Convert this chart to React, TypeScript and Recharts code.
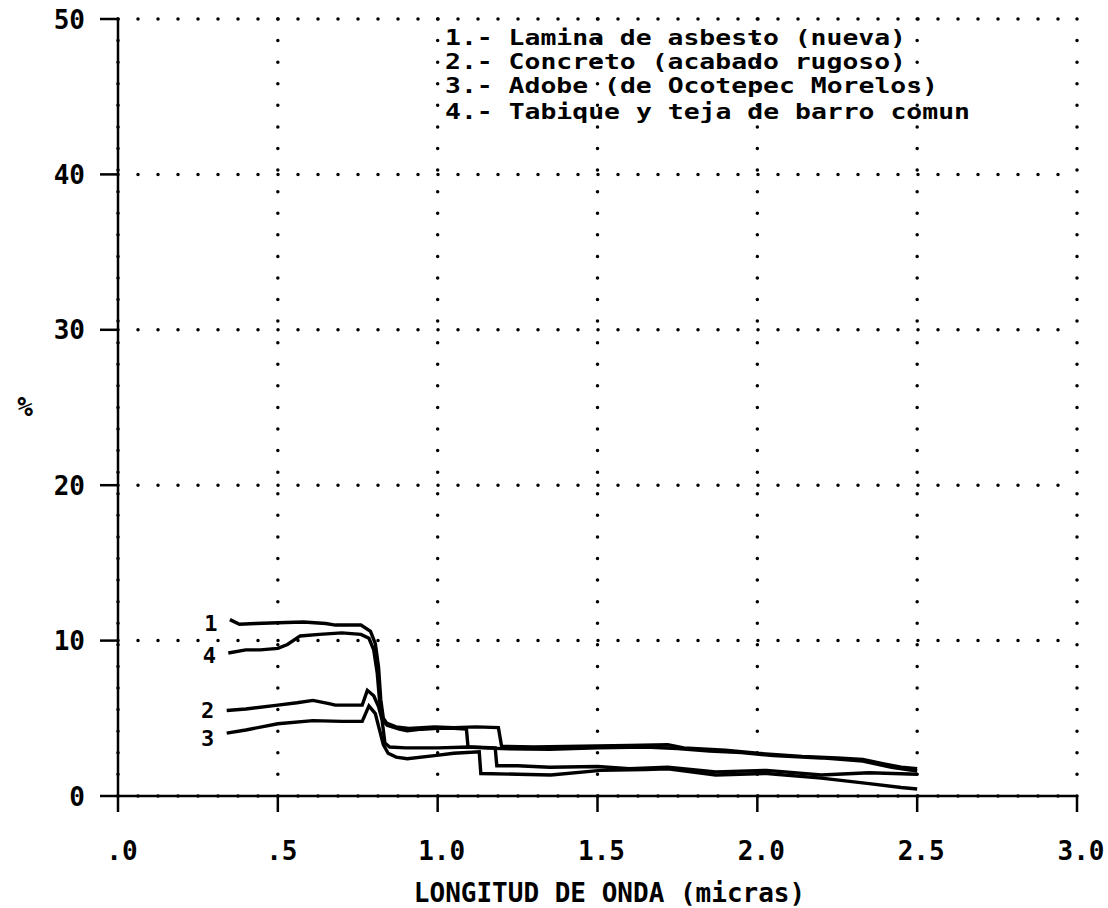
import React from 'react';
import { LineChart, Line, XAxis, YAxis, CartesianGrid, Customized } from 'recharts';

const FONT = '"DejaVu Sans Mono", "Liberation Mono", monospace';

// Axis ticks
const xTicks = [0, 0.5, 1, 1.5, 2, 2.5, 3];
const xTickLabels = ['.0', '.5', '1.0', '1.5', '2.0', '2.5', '3.0'];
const yTicks = [0, 10, 20, 30, 40, 50];
const yTickLabels = ['0', '10', '20', '30', '40', '50'];

const xTitle = 'LONGITUD DE ONDA (micras)';
const yTitle = '%';

const legendLines = [
  '1.- Lamina de asbesto (nueva)',
  '2.- Concreto (acabado rugoso)',
  '3.- Adobe (de Ocotepec Morelos)',
  '4.- Tabique y teja de barro comun',
];

// Series 1: Lamina de asbesto (nueva)
const s1x = [0.35, 0.38, 0.43, 0.5, 0.58, 0.65, 0.68, 0.76, 0.79, 0.805, 0.815, 0.822, 0.83, 0.84, 0.87, 0.91, 0.99, 1.05, 1.12, 1.19, 1.2, 1.3, 1.45, 1.6, 1.72, 1.77, 1.9, 2.0, 2.14, 2.25, 2.33, 2.4, 2.45, 2.5];
const s1y = [11.35, 11.05, 11.1, 11.15, 11.2, 11.1, 11.0, 11.0, 10.6, 9.8, 8.3, 6.2, 5.0, 4.7, 4.45, 4.35, 4.45, 4.4, 4.45, 4.4, 3.2, 3.15, 3.2, 3.25, 3.3, 3.1, 2.95, 2.75, 2.55, 2.45, 2.35, 2.05, 1.85, 1.75];

// Series 2: Concreto (acabado rugoso)
const s2x = [0.34, 0.4, 0.5, 0.56, 0.61, 0.66, 0.68, 0.764, 0.78, 0.8, 0.815, 0.826, 0.835, 0.85, 0.9, 1.0, 1.1, 1.18, 1.185, 1.25, 1.35, 1.5, 1.6, 1.72, 1.87, 2.03, 2.2, 2.35, 2.5];
const s2y = [5.5, 5.6, 5.85, 6.0, 6.15, 5.95, 5.85, 5.85, 6.8, 6.45, 5.75, 4.9, 3.4, 3.15, 3.1, 3.1, 3.15, 3.1, 1.95, 1.95, 1.85, 1.9, 1.75, 1.85, 1.55, 1.65, 1.35, 1.5, 1.4];

// Series 3: Adobe (de Ocotepec Morelos)
const s3x = [0.34, 0.4, 0.5, 0.61, 0.7, 0.764, 0.785, 0.805, 0.815, 0.83, 0.845, 0.87, 0.905, 0.99, 1.05, 1.13, 1.135, 1.25, 1.354, 1.51, 1.65, 1.72, 1.87, 2.03, 2.2, 2.35, 2.45, 2.5];
const s3y = [4.05, 4.25, 4.65, 4.85, 4.8, 4.8, 5.8, 5.3, 4.5, 3.3, 2.75, 2.5, 2.4, 2.6, 2.75, 2.85, 1.45, 1.4, 1.35, 1.65, 1.7, 1.75, 1.35, 1.45, 1.15, 0.8, 0.55, 0.45];

// Series 4: Tabique y teja de barro comun
const s4x = [0.345, 0.4, 0.445, 0.5, 0.53, 0.57, 0.63, 0.7, 0.76, 0.785, 0.8, 0.811, 0.818, 0.827, 0.842, 0.88, 0.905, 0.95, 1.0, 1.05, 1.09, 1.095, 1.2, 1.35, 1.5, 1.65, 1.75, 1.85, 1.95, 2.05, 2.2, 2.33, 2.42, 2.5];
const s4y = [9.2, 9.4, 9.4, 9.5, 9.75, 10.3, 10.4, 10.5, 10.4, 10.15, 9.4, 7.9, 6.2, 4.9, 4.55, 4.3, 4.2, 4.3, 4.35, 4.35, 4.3, 3.15, 3.05, 3.0, 3.1, 3.15, 3.05, 2.9, 2.8, 2.6, 2.45, 2.25, 1.85, 1.6];

const toPoints = (xs: number[], ys: number[]) => xs.map((x, i) => ({ x, y: ys[i] }));

const series = [
  { name: '1', dy: 3, data: toPoints(s1x, s1y) },
  { name: '4', dy: 2, data: toPoints(s4x, s4y) },
  { name: '2', dy: -1, data: toPoints(s2x, s2y) },
  { name: '3', dy: 5, data: toPoints(s3x, s3y) },
];

const XTick = (props: any) => {
  const { x, y, index } = props;
  return (
    <text x={x + 4} y={y + 48} textAnchor="middle" fontFamily={FONT} fontWeight="bold" fontSize={26} fill="#000">
      {xTickLabels[index]}
    </text>
  );
};

const YTick = (props: any) => {
  const { x, y, index } = props;
  return (
    <text x={x - 15} y={y + 9.5} textAnchor="end" fontFamily={FONT} fontWeight="bold" fontSize={26} fill="#000">
      {yTickLabels[index]}
    </text>
  );
};

const XTitle = (props: any) => {
  const vb = props.viewBox || { x: 118, y: 796, width: 959, height: 112 };
  return (
    <text x={vb.x + vb.width / 2 + 12} y={vb.y + 106} textAnchor="middle" fontFamily={FONT} fontWeight="bold" fontSize={26} fill="#000">
      {xTitle}
    </text>
  );
};

const YTitle = (props: any) => {
  const vb = props.viewBox || { x: 0, y: 19, width: 118, height: 777 };
  return (
    <text x={25} y={vb.y + vb.height / 2 + 8} textAnchor="middle" fontFamily={FONT} fontWeight="bold" fontSize={26} fill="#000">
      {yTitle}
    </text>
  );
};

const legendTop = [45, 69, 93, 119];

const LegendBlock = () => (
  <g>
    {legendLines.map((t, i) => (
      <text
        key={t}
        x={445}
        y={legendTop[i]}
        fontFamily={FONT}
        fontWeight="bold"
        fontSize={21}
        fill="#000"
        textLength={t.length * 16 - 3}
        lengthAdjust="spacingAndGlyphs"
      >
        {t}
      </text>
    ))}
  </g>
);

const makeLabel = (name: string, dy: number) => (p: any) => {
  if (p.index !== 0) return null;
  return (
    <text x={p.x - 19} y={p.y + dy + 8} textAnchor="middle" fontFamily={FONT} fontWeight="bold" fontSize={22} fill="#000">
      {name}
    </text>
  );
};

export default function App() {
  return (
    <div style={{ position: 'absolute', left: 0, top: 0, width: 1108, height: 908, background: '#fff' }}>
      <LineChart width={1108} height={908} margin={{ top: 19, right: 31, bottom: 0, left: 0 }}>
        <CartesianGrid horizontal vertical={false} stroke="#000" strokeWidth={3.5} strokeDasharray="0 20" strokeLinecap="round" />
        <CartesianGrid horizontal={false} vertical stroke="#000" strokeWidth={3.5} strokeDasharray="0 21.58" strokeLinecap="round" />
        <XAxis
          type="number"
          dataKey="x"
          domain={[0, 3]}
          ticks={xTicks}
          interval={0}
          height={112}
          tickSize={16}
          tickMargin={0}
          axisLine={{ stroke: '#000', strokeWidth: 2.5 }}
          tickLine={{ stroke: '#000', strokeWidth: 2.5 }}
          tick={XTick}
          label={XTitle}
          allowDataOverflow
        />
        <YAxis
          type="number"
          dataKey="y"
          domain={[0, 50]}
          ticks={yTicks}
          interval={0}
          width={118}
          tickSize={18}
          tickMargin={0}
          axisLine={{ stroke: '#000', strokeWidth: 2.5 }}
          tickLine={{ stroke: '#000', strokeWidth: 2.5 }}
          tick={YTick}
          label={YTitle}
          allowDataOverflow
        />
        {series.map((s) => (
          <Line
            key={s.name}
            data={s.data}
            dataKey="y"
            type="linear"
            stroke="#000"
            strokeWidth={3.4}
            dot={false}
            activeDot={false}
            isAnimationActive={false}
            label={makeLabel(s.name, s.dy)}
          />
        ))}
        <Customized component={LegendBlock} />
      </LineChart>
    </div>
  );
}
